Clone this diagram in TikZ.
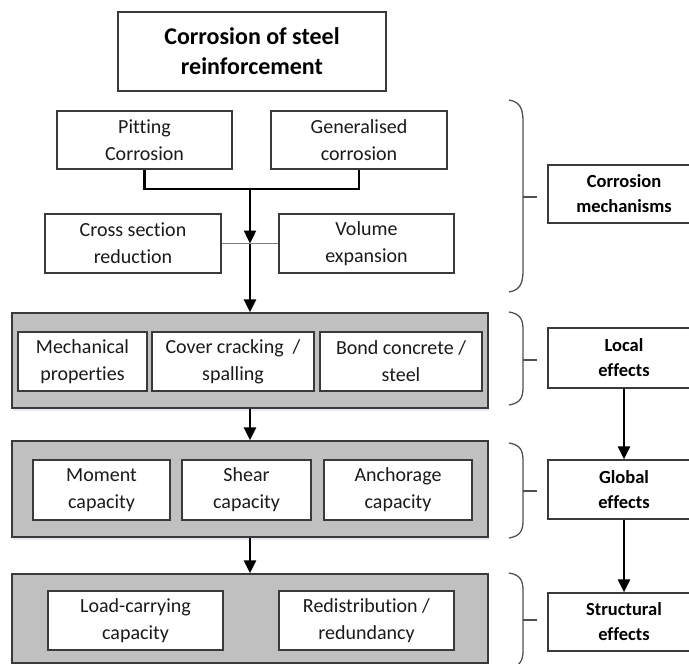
\documentclass[tikz,border=0pt]{standalone}
\usepackage{fontspec}
\setmainfont{Carlito}[Ligatures={NoCommon,NoContextual}]
\usetikzlibrary{arrows.meta,shadows}
\definecolor{boxline}{HTML}{3A3A3A}
\definecolor{greyfill}{HTML}{C0C0C0}
\definecolor{bracecol}{HTML}{505050}
\definecolor{txt}{HTML}{1A1A1A}
\tikzset{
  wbox/.style={draw=boxline, line width=1.2pt, fill=white, inner sep=0pt, align=center,
    text=txt, font=\fontsize{20}{27}\selectfont},
  gbox/.style={draw=boxline, line width=1.4pt, fill=greyfill, inner sep=0pt,
    drop shadow={shadow xshift=1pt, shadow yshift=-3pt, opacity=0.12, fill=blue!40!gray}},
  rbox/.style={draw=boxline, line width=1.2pt, fill=white, inner sep=0pt, align=center,
    text=black, font=\fontsize{18.5}{25}\selectfont\bfseries, minimum width=152pt},
  conn/.style={draw=black, line width=2.4pt},
  arr/.style={conn, -{Triangle[width=12pt,length=13pt]}},
  bracepath/.style={draw=bracecol, line width=1.3pt},
  thinline/.style={draw=gray, line width=1.2pt}
}
\begin{document}
\begin{tikzpicture}[x=1pt,y=-1pt]
\useasboundingbox (0,0) rectangle (689,664);

% title
\node[wbox, font=\fontsize{24}{30}\selectfont\bfseries, text=black, minimum width=268pt, minimum height=79pt] (title) at (252,51.5) {Corrosion of steel\\reinforcement};

% corrosion mechanisms
\node[wbox, minimum width=175pt, minimum height=58pt] (pit) at (144.5,140) {Pitting\\Corrosion};
\node[wbox, minimum width=176pt, minimum height=58pt] (gen) at (359,140) {Generalised\\corrosion};
\node[wbox, minimum width=176pt, minimum height=59pt] (cross) at (133,243.5) {Cross section\\reduction};
\node[wbox, minimum width=175pt, minimum height=59pt] (vol) at (366.5,243.5) {Volume\\expansion};

% grey group boxes
\node[gbox, minimum width=476pt, minimum height=95pt] (g1) at (250,360.5) {};
\node[gbox, minimum width=476pt, minimum height=96pt] (g2) at (250,489) {};
\node[gbox, minimum width=476pt, minimum height=89pt] (g3) at (250,618.5) {};

% local effects
\node[wbox, minimum width=129pt, minimum height=59pt] (mech) at (82.5,361.5) {Mechanical\\properties};
\node[wbox, minimum width=162pt, minimum height=59pt] (cover) at (233,361.5) {Cover cracking~~/\\spalling};
\node[wbox, minimum width=162pt, minimum height=59pt] (bond) at (401,361.5) {Bond concrete /\\steel};

% global effects
\node[wbox, minimum width=137pt, minimum height=60pt] (mom) at (101.5,490) {Moment\\capacity};
\node[wbox, minimum width=129pt, minimum height=60pt] (shear) at (246.5,490) {Shear\\capacity};
\node[wbox, minimum width=148pt, minimum height=60pt] (anch) at (398,490) {Anchorage\\capacity};

% structural effects
\node[wbox, minimum width=175pt, minimum height=59pt] (load) at (135.5,620.5) {Load-carrying\\capacity};
\node[wbox, minimum width=175pt, minimum height=59pt] (red) at (366.5,620.5) {Redistribution /\\redundancy};

% right column
\node[rbox, minimum height=58pt] (rmech) at (624,194) {Corrosion\\mechanisms};
\node[rbox, minimum height=60pt] (rlocal) at (624,358) {Local\\effects};
\node[rbox, minimum height=59pt] (rglobal) at (624,489.5) {Global\\effects};
\node[rbox, minimum height=58pt] (rstruct) at (624,622) {Structural\\effects};

% connectors
\coordinate (jn) at (250,189);
\coordinate (mid) at (250,243.5);
\draw[thinline] (cross.east) -- (vol.west);
\draw[conn] (pit.south) -- (pit.south |- jn) -- (gen.south |- jn) -- (gen.south);
\draw[arr] (jn) -- (mid);
\draw[arr] (mid) -- (g1.north);
\draw[arr] (g1.south) -- (g2.north);
\draw[arr] (g2.south) -- (g3.north);
\draw[arr] (rlocal.south) -- (rglobal.north);
\draw[arr] (rglobal.south) -- (rstruct.north);

% braces
\draw[bracepath] (509,100) .. controls (521,102) and (523,110) .. (523,122) -- (523,270) .. controls (523,282) and (521,290) .. (509,292);
\draw[bracepath] (523,197) -- (537,197);
\draw[bracepath] (509,312) .. controls (521,314) and (523,320) .. (523,330) -- (523,387) .. controls (523,397) and (521,403) .. (509,405);
\draw[bracepath] (523,360) -- (537,360);
\draw[bracepath] (509,443) .. controls (521,445) and (523,451) .. (523,461) -- (523,520) .. controls (523,530) and (521,536) .. (509,538);
\draw[bracepath] (523,491) -- (537,491);
\draw[bracepath] (509,573) .. controls (521,575) and (523,581) .. (523,591) -- (523,650) .. controls (523,660) and (521,666) .. (509,668);
\draw[bracepath] (523,620) -- (537,620);
\end{tikzpicture}
\end{document}
